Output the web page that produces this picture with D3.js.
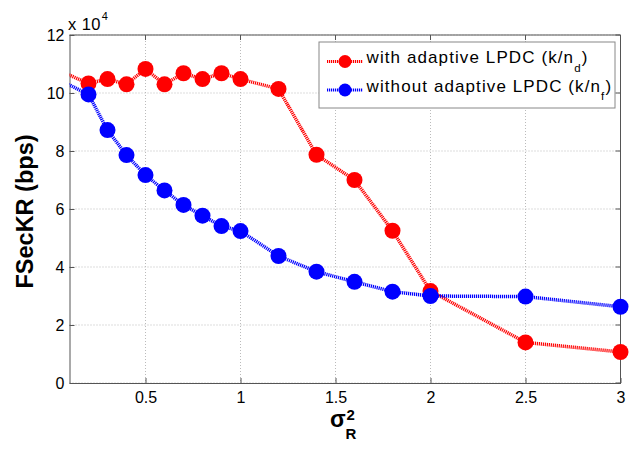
<!DOCTYPE html>
<html>
<head>
<meta charset="utf-8">
<script src="https://cdn.jsdelivr.net/npm/d3@7"></script>
<style>
  body { margin: 0; background: #fff; }
  text { font-family: "Liberation Sans", Arial, sans-serif; }
</style>
</head>
<body>
<div id="chart"></div>
<script>
// sigma_R^2 values (first point sits left of the visible axis, line only)
var xs = [0, 0.2, 0.3, 0.4, 0.5, 0.6, 0.7, 0.8, 0.9, 1, 1.2, 1.4, 1.6, 1.8, 2, 2.5, 3];
var withAdaptive = [10.9, 10.33, 10.48, 10.3, 10.83, 10.3, 10.68, 10.48, 10.68, 10.48, 10.14, 7.87, 7.0, 5.25, 3.17, 1.4, 1.07];
var withoutAdaptive = [10.6, 9.95, 8.72, 7.86, 7.17, 6.64, 6.14, 5.77, 5.41, 5.24, 4.38, 3.84, 3.49, 3.15, 3.0, 2.98, 2.63];
var xTicks = [0.5, 1, 1.5, 2, 2.5, 3];
var yTicks = [0, 2, 4, 6, 8, 10, 12];
var seriesNames = ["with adaptive LPDC (k/n", "without adaptive LPDC (k/n"];
var seriesSubs = ["d", "f"];
var seriesColors = ["#ff0000", "#0000ff"];

var width = 630, height = 449;
var margin = {left: 69.5, top: 35, right: 9.5, bottom: 66};
var w = width - margin.left - margin.right,
    h = height - margin.top - margin.bottom;

var svg = d3.select("#chart").append("svg")
  .attr("width", width)
  .attr("height", height);

var x = d3.scaleLinear().domain([0.1, 3]).range([0, w]);
var y = d3.scaleLinear().domain([0, 12]).range([h, 0]);

var g = svg.append("g").attr("transform", "translate(" + margin.left + "," + margin.top + ")");

svg.append("defs").append("clipPath").attr("id", "clip")
  .append("rect").attr("width", w).attr("height", h);

// grid
g.append("g").selectAll("line").data(xTicks).enter().append("line")
  .attr("x1", d => x(d)).attr("x2", d => x(d))
  .attr("y1", 0).attr("y2", h)
  .attr("stroke", "#bbb").attr("stroke-width", 1).attr("stroke-dasharray", "1,2");
g.append("g").selectAll("line").data(yTicks).enter().append("line")
  .attr("x1", 0).attr("x2", w)
  .attr("y1", d => y(d)).attr("y2", d => y(d))
  .attr("stroke", "#bbb").attr("stroke-width", 1).attr("stroke-dasharray", "1,2");

// axes
var xAxis = d3.axisBottom(x).tickValues(xTicks).tickSizeInner(-5).tickSizeOuter(0).tickPadding(9).tickFormat(d3.format("~g"));
var yAxis = d3.axisLeft(y).tickValues(yTicks).tickSizeInner(-5).tickSizeOuter(0).tickPadding(5);

var gx = g.append("g").attr("transform", "translate(0," + h + ")").call(xAxis);
var gy = g.append("g").call(yAxis);
[gx, gy].forEach(function (a) {
  a.select(".domain").attr("stroke", "#555");
  a.selectAll(".tick line").attr("stroke", "#555");
  a.selectAll(".tick text").attr("fill", "#000").style("font-size", "16px")
    .style("font-family", "'Liberation Sans', Arial, sans-serif");
});
// top and right box
g.append("line").attr("x1", 0).attr("x2", w).attr("y1", 0).attr("y2", 0).attr("stroke", "#555");
g.append("line").attr("x1", w).attr("x2", w).attr("y1", 0).attr("y2", h).attr("stroke", "#555");
// inward ticks on top/right
g.append("g").selectAll("line").data(xTicks).enter().append("line")
  .attr("x1", d => x(d)).attr("x2", d => x(d)).attr("y1", 0).attr("y2", 5).attr("stroke", "#555");
g.append("g").selectAll("line").data(yTicks).enter().append("line")
  .attr("x1", w).attr("x2", w - 5).attr("y1", d => y(d)).attr("y2", d => y(d)).attr("stroke", "#555");

// series
var line = d3.line().x(d => x(d[0])).y(d => y(d[1]));
var plot = g.append("g").attr("clip-path", "url(#clip)");
[withAdaptive, withoutAdaptive].forEach(function (vals, i) {
  var pts = xs.map((v, j) => [v, vals[j]]);
  plot.append("path").datum(pts)
    .attr("d", line)
    .attr("fill", "none")
    .attr("stroke", seriesColors[i])
    .attr("stroke-width", 3.5)
    .attr("stroke-dasharray", "1.2,0.8");
  g.append("g").selectAll("circle").data(pts.filter(p => p[0] >= 0.1)).enter().append("circle")
    .attr("cx", d => x(d[0])).attr("cy", d => y(d[1]))
    .attr("r", 8)
    .attr("fill", seriesColors[i]);
});

// exponent label
var ex = svg.append("text").attr("x", 68).attr("y", 30)
  .style("font-size", "16.5px").style("letter-spacing", "0.4px");
ex.append("tspan").text("x 10");
ex.append("tspan").attr("dx", 1).attr("dy", -10).style("font-size", "11px").text("4");

// axis titles
svg.append("text")
  .attr("transform", "translate(32.5,211.5) rotate(-90)")
  .attr("text-anchor", "middle")
  .style("font-size", "23.5px").style("font-weight", "bold")
  .text("FSecKR (bps)");

svg.append("text").attr("x", 330).attr("y", 427)
  .style("font-size", "23px").style("font-weight", "bold")
  .text("\u03c3");
svg.append("text").attr("x", 346.5).attr("y", 419.5)
  .style("font-size", "15px").style("font-weight", "bold")
  .text("2");
svg.append("text").attr("x", 345.5).attr("y", 438.5)
  .style("font-size", "15px").style("font-weight", "bold")
  .text("R");

// legend
var lg = svg.append("g").attr("transform", "translate(319,42)");
lg.append("rect").attr("width", 296).attr("height", 66)
  .attr("fill", "#fff").attr("stroke", "#888");
seriesNames.forEach(function (name, i) {
  var ry = 19.5 + i * 28.5;
  lg.append("line").attr("x1", 8).attr("x2", 44).attr("y1", ry).attr("y2", ry)
    .attr("stroke", seriesColors[i]).attr("stroke-width", 3).attr("stroke-dasharray", "1.2,0.8");
  lg.append("circle").attr("cx", 26).attr("cy", ry).attr("r", 6.5).attr("fill", seriesColors[i]);
  var t = lg.append("text").attr("x", 47.5).attr("y", ry + 1.5)
    .style("font-size", "17px").style("letter-spacing", "1.1px");
  t.append("tspan").text(name);
  t.append("tspan").attr("dy", 8.5).style("font-size", "11.5px").text(seriesSubs[i]);
  t.append("tspan").attr("dy", -8.5).text(")");
});
</script>
</body>
</html>
